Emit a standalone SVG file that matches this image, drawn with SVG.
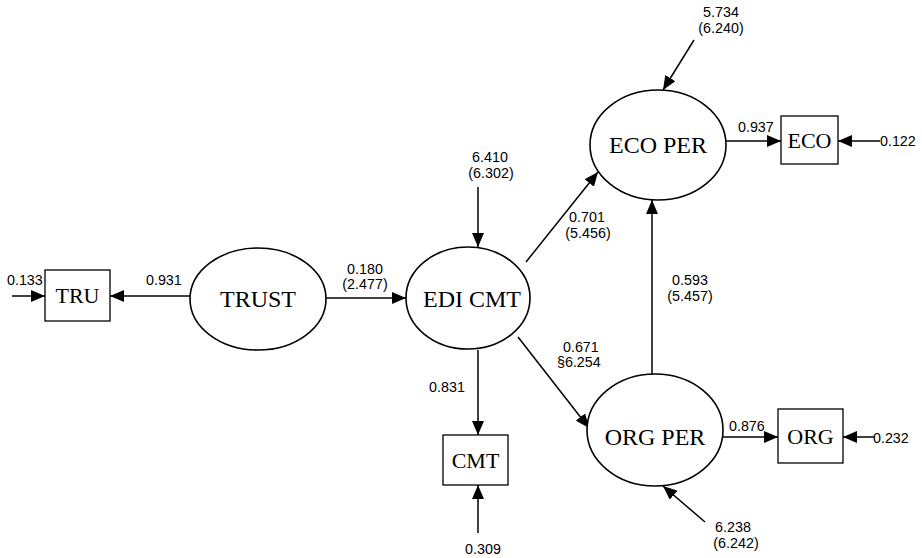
<svg xmlns="http://www.w3.org/2000/svg" width="922" height="558" viewBox="0 0 922 558">
<style>
.bg{fill:#fff}
.ell{fill:#fff;stroke:#000;stroke-width:1.6}
.box{fill:#fff;stroke:#000;stroke-width:1.3}
.ln{stroke:#000;stroke-width:1.5;fill:none;marker-end:url(#ah)}
.nl{font-family:"Liberation Serif","Times New Roman",serif;font-size:24px;text-anchor:middle;fill:#000}
.bl{font-family:"Liberation Serif","Times New Roman",serif;font-size:22px;text-anchor:middle;fill:#000}
.num{font-family:"Liberation Sans",Arial,sans-serif;font-size:14.3px;fill:#000}
.c{text-anchor:middle}
</style>
<defs>
<marker id="ah" markerUnits="userSpaceOnUse" markerWidth="14" markerHeight="12" refX="14" refY="6" orient="auto">
<path d="M0,0 L14,6 L0,12 z" fill="#000"/>
</marker>
</defs>
<rect class="bg" x="0" y="0" width="922" height="558"/>
<g id="connectors">
<line class="ln" x1="12" y1="296" x2="45" y2="296"/>
<line class="ln" x1="190" y1="296" x2="110" y2="296"/>
<line class="ln" x1="326" y1="298" x2="406" y2="298"/>
<line class="ln" x1="478" y1="187" x2="478" y2="247"/>
<line class="ln" x1="526" y1="262" x2="598" y2="172"/>
<line class="ln" x1="694" y1="40" x2="663" y2="90"/>
<line class="ln" x1="726" y1="141" x2="781" y2="141"/>
<line class="ln" x1="880" y1="141" x2="838" y2="141"/>
<line class="ln" x1="652" y1="374" x2="652" y2="200"/>
<line class="ln" x1="518" y1="337" x2="589" y2="428"/>
<line class="ln" x1="723" y1="437" x2="778" y2="437"/>
<line class="ln" x1="875" y1="437" x2="843" y2="437"/>
<line class="ln" x1="705" y1="522" x2="663" y2="486"/>
<line class="ln" x1="478" y1="350" x2="478" y2="435"/>
<line class="ln" x1="478" y1="533" x2="478" y2="485"/>
</g>
<g id="TRU">
<rect class="box" x="45" y="270" width="65" height="51"/>
<text class="bl" x="77.5" y="303">TRU</text>
</g>
<g id="TRUST">
<ellipse class="ell" cx="258" cy="299" rx="68" ry="51"/>
<text class="nl" x="258" y="307">TRUST</text>
</g>
<g id="EDICMT">
<ellipse class="ell" cx="468" cy="298" rx="62" ry="51"/>
<text class="nl" x="472" y="307">EDI CMT</text>
</g>
<g id="ECOPER">
<ellipse class="ell" cx="658" cy="145" rx="68" ry="55"/>
<text class="nl" x="658" y="153">ECO PER</text>
</g>
<g id="ECO">
<rect class="box" x="781" y="116" width="57" height="48"/>
<text class="bl" x="809.5" y="148">ECO</text>
</g>
<g id="ORGPER">
<ellipse class="ell" cx="655" cy="430" rx="68" ry="56"/>
<text class="nl" x="655" y="445">ORG PER</text>
</g>
<g id="ORG">
<rect class="box" x="778" y="409" width="65" height="54"/>
<text class="bl" x="810.5" y="444">ORG</text>
</g>
<g id="CMT">
<rect class="box" x="443" y="435" width="65" height="50"/>
<text class="bl" x="475.5" y="468">CMT</text>
</g>
<g id="labels">
<text class="num" x="7" y="285">0.133</text>
<text class="num" x="146" y="285">0.931</text>
<text class="num c" x="365" y="274">0.180</text>
<text class="num c" x="365" y="289">(2.477)</text>
<text class="num c" x="490" y="162">6.410</text>
<text class="num c" x="491" y="178">(6.302)</text>
<text class="num c" x="721" y="17">5.734</text>
<text class="num c" x="721" y="33">(6.240)</text>
<text class="num" x="738" y="132">0.937</text>
<text class="num" x="880" y="146">0.122</text>
<text class="num c" x="587" y="222">0.701</text>
<text class="num c" x="588" y="238">(5.456)</text>
<text class="num c" x="690" y="285">0.593</text>
<text class="num c" x="690" y="301">(5.457)</text>
<text class="num" x="563" y="352">0.671</text>
<text class="num" x="557" y="367">§6.254</text>
<text class="num" x="729" y="431">0.876</text>
<text class="num" x="873" y="443">0.232</text>
<text class="num c" x="733" y="532">6.238</text>
<text class="num c" x="736" y="548">(6.242)</text>
<text class="num c" x="447" y="392">0.831</text>
<text class="num c" x="483" y="554">0.309</text>
</g>
</svg>
